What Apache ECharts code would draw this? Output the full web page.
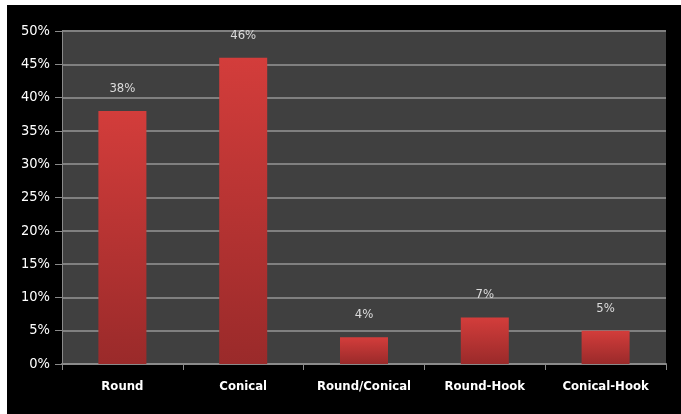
<!DOCTYPE html>
<html>
<head>
<meta charset="utf-8">
<script src="https://cdn.jsdelivr.net/npm/echarts@6/dist/echarts.min.js"></script>
<style>
html,body{margin:0;padding:0;background:#fff;width:681px;height:414px;overflow:hidden;}
#c{position:absolute;left:7px;top:5px;width:674px;height:409px;background:#000;}
</style>
</head>
<body>
<div id="c"></div>
<script>
var categories = ['Round', 'Conical', 'Round/Conical', 'Round-Hook', 'Conical-Hook'];
var values = [38, 46, 4, 7, 5];
var yTicks = [0, 5, 10, 15, 20, 25, 30, 35, 40, 45, 50];

var chart = echarts.init(document.getElementById('c'), null, {renderer: 'canvas'});
chart.setOption({
  backgroundColor: '#000',
  animation: false,
  grid: {left: 55, top: 26, right: 15, bottom: 50, show: true, backgroundColor: '#404040', borderWidth: 0},
  xAxis: {
    type: 'category',
    data: categories,
    axisLine: {show: true, lineStyle: {color: '#8a8a8a', width: 2}},
    axisTick: {show: true, length: 6, lineStyle: {color: '#8a8a8a', width: 1}},
    axisLabel: {interval: 0, color: '#ffffff', fontFamily: 'DejaVu Sans Condensed', fontWeight: 'bold', fontSize: 13, margin: 16}
  },
  yAxis: {
    type: 'value',
    min: yTicks[0],
    max: yTicks[yTicks.length - 1],
    interval: 5,
    axisLine: {show: true, lineStyle: {color: '#8a8a8a', width: 1}},
    axisTick: {show: true, length: 7, lineStyle: {color: '#8a8a8a', width: 1}},
    axisLabel: {color: '#ffffff', fontFamily: 'DejaVu Sans Condensed', fontSize: 14.5, margin: 12, formatter: '{value}%'},
    splitLine: {show: true, lineStyle: {color: '#808080', width: 2}}
  },
  series: [{
    type: 'bar',
    data: values,
    barWidth: 48,
    itemStyle: {
      color: new echarts.graphic.LinearGradient(0, 0, 0, 1, [
        {offset: 0, color: '#d33d3b'},
        {offset: 1, color: '#9a2a2a'}
      ])
    },
    label: {
      show: true,
      position: 'top',
      distance: 16,
      color: '#dcdcdc',
      fontFamily: 'DejaVu Sans Condensed',
      fontSize: 13,
      formatter: '{c}%'
    }
  }]
});
</script>
</body>
</html>
